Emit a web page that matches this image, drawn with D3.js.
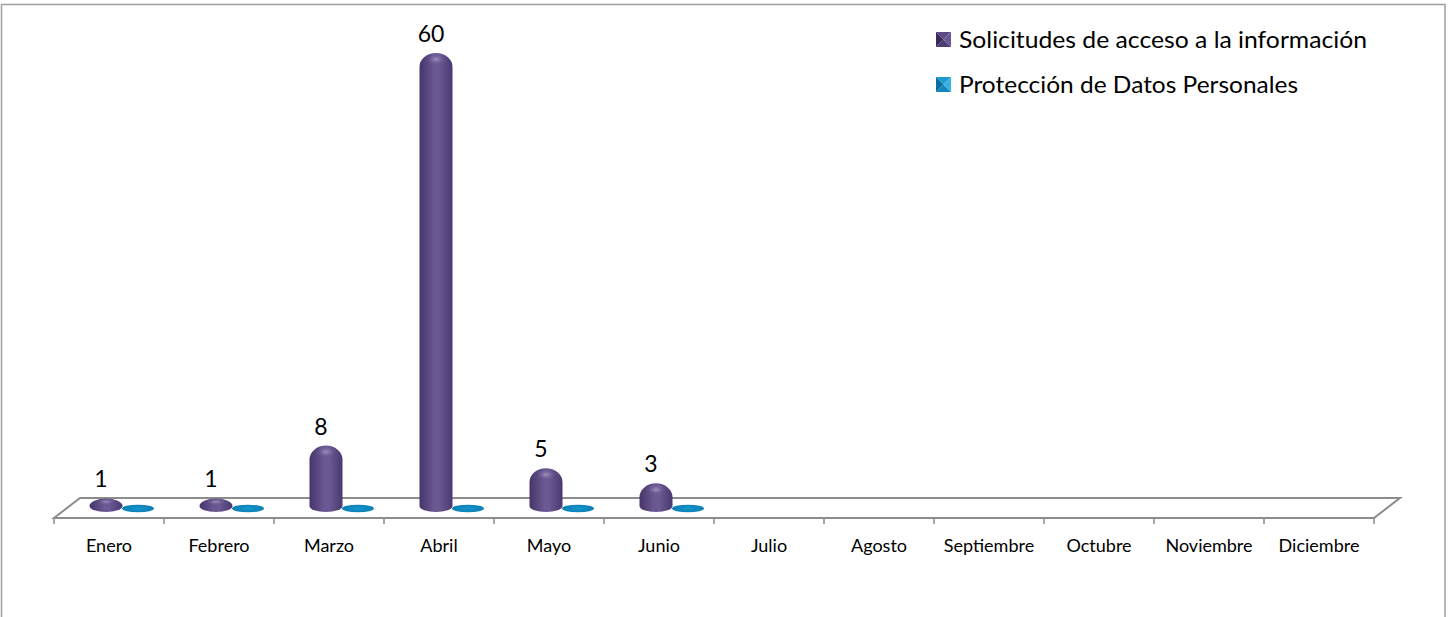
<!DOCTYPE html>
<html><head><meta charset="utf-8">
<script src="https://cdn.jsdelivr.net/npm/d3@7"></script>
<style>body{margin:0;background:#fff}svg{display:block}text{font-family:Lato,"Open Sans",sans-serif;fill:#000}</style>
</head><body>
<svg id="c" width="1450" height="617"></svg>
<script>
const months = ["Enero","Febrero","Marzo","Abril","Mayo","Junio","Julio","Agosto","Septiembre","Octubre","Noviembre","Diciembre"];
const solicitudes = [1,1,8,60,5,3,null,null,null,null,null,null];
const proteccion = [0,0,0,0,0,0,null,null,null,null,null,null];
const seriesNames = ["Solicitudes de acceso a la información","Protección de Datos Personales"];

const svg = d3.select("#c");
const defs = svg.append("defs");

// gradients
const gP = defs.append("linearGradient").attr("id","gP").attr("x1","0").attr("x2","1").attr("y1","0").attr("y2","0");
[["0%","#46356a"],["45%","#6a5892"],["60%","#6a5892"],["100%","#4a3970"]].forEach(s=>gP.append("stop").attr("offset",s[0]).attr("stop-color",s[1]));
const gH = defs.append("radialGradient").attr("id","gH");
gH.append("stop").attr("offset","0%").attr("stop-color","#b7a9d0").attr("stop-opacity",0.7);
gH.append("stop").attr("offset","100%").attr("stop-color","#6a5892").attr("stop-opacity",0);
const gB = defs.append("radialGradient").attr("id","gB");
gB.append("stop").attr("offset","0%").attr("stop-color","#1496cc");
gB.append("stop").attr("offset","100%").attr("stop-color","#0b7fb5");

// outer border
svg.append("path").attr("d","M1.5,617 L1.5,4.5 L1445,4.5 L1445,617").attr("fill","none").attr("stroke","#a0a0a0").attr("stroke-width",1.5);

const x = d3.scaleBand().domain(months).range([54,1374]).padding(0);
const y = d3.scaleLinear().domain([0,60]).range([506,53]);
const depthX = 26, depthY = 20, midX = 13;
const floorY = 518;

// floor
const x0 = x.range()[0], x1 = x.range()[1];
svg.append("path")
  .attr("d",`M${x0},${floorY} L${x0+depthX},${floorY-depthY} L${x1+depthX},${floorY-depthY} L${x1},${floorY} Z`)
  .attr("fill","#fff").attr("stroke","#8c8c8c").attr("stroke-width",2).attr("stroke-linejoin","miter");

// ticks at band boundaries
const bounds = months.map(m=>x(m)).concat([x1]);
svg.append("g").selectAll("line").data(bounds).join("line")
  .attr("x1",d=>d).attr("x2",d=>d).attr("y1",floorY).attr("y2",floorY+6)
  .attr("stroke","#8c8c8c").attr("stroke-width",1.5);

// axis labels
const axis = svg.append("g").attr("transform",`translate(0,${floorY})`)
  .call(d3.axisBottom(x).tickSize(0).tickPadding(0));
axis.select(".domain").remove();
axis.selectAll("text").attr("y",34).attr("dy",0).style("font-size","18px").style("font-family","Lato,'Open Sans',sans-serif").attr("fill","#000");

const rx = 16.5, ryB = 6;
const idx = d3.range(months.length);
function cx(i, s){ return x(months[i]) + x.bandwidth()/2 + midX + (s===0 ? -16 : 16); }

// purple cylinders
const pd = idx.filter(i=>solicitudes[i]!=null && solicitudes[i]>0);
const yb = y(0);
function cylPath(i){
  const c = cx(i,0), top = y(solicitudes[i]);
  const capR = Math.min(14, yb - top);
  return `M${c-rx},${yb} L${c-rx},${top+capR} A${rx},${capR} 0 0 1 ${c+rx},${top+capR} L${c+rx},${yb} A${rx},${ryB} 0 0 1 ${c-rx},${yb} Z`;
}
svg.append("g").selectAll("path").data(pd).join("path")
  .attr("d",cylPath).attr("fill","url(#gP)");
svg.append("g").selectAll("ellipse").data(pd).join("ellipse")
  .attr("cx",i=>cx(i,0)).attr("cy",i=>{const top=y(solicitudes[i]);const capR=Math.min(14,yb-top);return top+capR*0.45;})
  .attr("rx",10).attr("ry",i=>{const top=y(solicitudes[i]);return Math.min(14,yb-top)*0.4;})
  .attr("fill","url(#gH)");

// blue flat discs (value 0)
const bd = idx.filter(i=>proteccion[i]!=null);
svg.append("g").selectAll("ellipse").data(bd).join("ellipse")
  .attr("cx",i=>cx(i,1)).attr("cy",i=>y(proteccion[i])+2.5)
  .attr("rx",rx-0.5).attr("ry",3.8).attr("fill","url(#gB)");

// value labels
svg.append("g").selectAll("text").data(pd).join("text")
  .attr("x",i=>cx(i,0)-5).attr("y",i=>y(solicitudes[i])-11)
  .attr("text-anchor","middle").style("font-size","23px")
  .text(i=>solicitudes[i]);

// legend
const legColors = [["#3a2b5a","#6a5892","#4f3d78","#5d4a86"],["#0a6f9e","#3ab0e0","#1186bd","#1c9bd0"]];
const lg = svg.append("g");
seriesNames.forEach((name,k)=>{
  const lx = 936, ly = 32 + k*45, s = 15;
  const c = legColors[k];
  const g = lg.append("g");
  const mxp = lx+s/2, myp = ly+s/2;
  g.append("path").attr("d",`M${lx},${ly} L${lx+s},${ly} L${mxp},${myp} Z`).attr("fill",c[3]);
  g.append("path").attr("d",`M${lx},${ly+s} L${lx+s},${ly+s} L${mxp},${myp} Z`).attr("fill",c[2]);
  g.append("path").attr("d",`M${lx},${ly} L${lx},${ly+s} L${mxp},${myp} Z`).attr("fill",c[0]);
  g.append("path").attr("d",`M${lx+s},${ly} L${lx+s},${ly+s} L${mxp},${myp} Z`).attr("fill",c[1]);
  g.append("text").attr("x",959).attr("y",ly+16).style("font-size","24px")
    .attr("textLength", k===0 ? 408 : 339).attr("lengthAdjust","spacingAndGlyphs").text(name);
});
</script>
</body></html>
